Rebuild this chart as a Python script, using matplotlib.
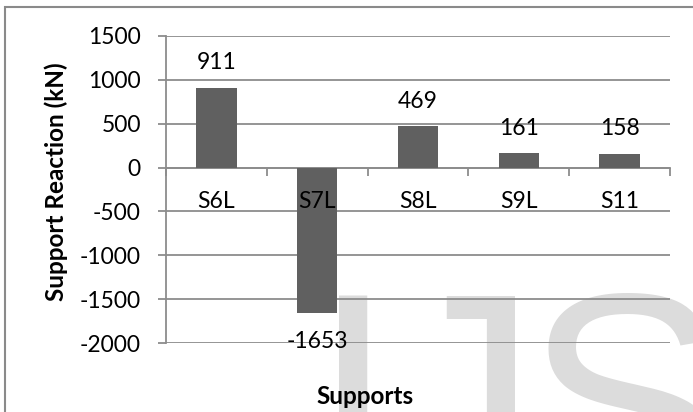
import matplotlib
matplotlib.use('Agg')
import matplotlib.pyplot as plt
from matplotlib.patches import Rectangle
from matplotlib.textpath import TextPath
from matplotlib.font_manager import FontProperties
import numpy as np

supports = ['S6L', 'S7L', 'S8L', 'S9L', 'S11']
reactions = [911, -1653, 469, 161, 158]
yticks = [1500, 1000, 500, 0, -500, -1000, -1500, -2000]

plt.rcParams['font.family'] = ['Lato', 'DejaVu Sans']
plt.rcParams['axes.unicode_minus'] = False
grid_col = '#8c8c8c'
W, H, DPI = 693, 412, 100

fig = plt.figure(figsize=(W / DPI, H / DPI), dpi=DPI)
ax = fig.add_axes([166 / W, 69 / H, 504 / W, 307 / H])
ax.set_facecolor('none')

# faint journal watermark behind the chart; letters placed by their ink edges
wm_font = FontProperties(family='Liberation Sans')
wm_px = 303


def ink(ch):
    return TextPath((0, 0), ch, size=wm_px, prop=wm_font).get_extents()


baseline = 296 + ink('I').y1
wm = dict(fontsize=wm_px * 72 / DPI, color='#dcdcdc', fontproperties=wm_font,
          ha='left', va='baseline', zorder=-1)
for ch, xpx in [('I', 339 - ink('I').x0), ('J', 514 - ink('J').x1),
                ('S', 538 - ink('S').x0)]:
    fig.text(xpx / W, 1 - baseline / H, ch, **wm)

# chart frame
fig.patches.append(Rectangle((5 / W, -0.1), 1.2, 1.1 - 7 / H,
                             transform=fig.transFigure, fill=False,
                             edgecolor='#8a8a8a', lw=1.5))

x = np.arange(len(supports))
ax.bar(x, reactions, width=0.4, color='#606060', zorder=3)

ax.set_xlim(-0.5, len(supports) - 0.5)
ax.set_ylim(-2000, 1500)
ax.set_yticks(yticks)
ax.yaxis.grid(True, color=grid_col, lw=1.3, zorder=1)

for s in ['top', 'right']:
    ax.spines[s].set_visible(False)
ax.spines['left'].set_color(grid_col)
ax.spines['left'].set_linewidth(1.3)
ax.spines['bottom'].set_color(grid_col)
ax.spines['bottom'].set_linewidth(1.3)
ax.spines['bottom'].set_position(('data', 0))

# category names sit on top of the bars
ax.xaxis.set_zorder(5)
ax.set_xticks(x, supports)
ax.set_xticks(np.arange(-0.5, len(supports), 1), minor=True)
ax.tick_params(axis='x', which='major', length=0, pad=17, labelsize=16.5)
ax.tick_params(axis='x', which='minor', length=5.5, width=1.3, color=grid_col)
ax.tick_params(axis='y', length=6, width=1.3, color=grid_col, pad=12, labelsize=16.5)

for xi, v in zip(x, reactions):
    off = 18 if v > 0 else -21
    ax.annotate(str(v), (xi, v), xytext=(0, off), textcoords='offset points',
                ha='center', va='center', fontsize=16.5, zorder=4)

ax.set_ylabel('Support Reaction (kN)', fontsize=17.5, fontweight='bold')
ax.yaxis.set_label_coords(-0.194, 0.526)
ax.set_xlabel('Supports', fontsize=17.5, fontweight='bold')
ax.xaxis.set_label_coords(0.395, -0.136)

fig.savefig('out.png', dpi=DPI)
